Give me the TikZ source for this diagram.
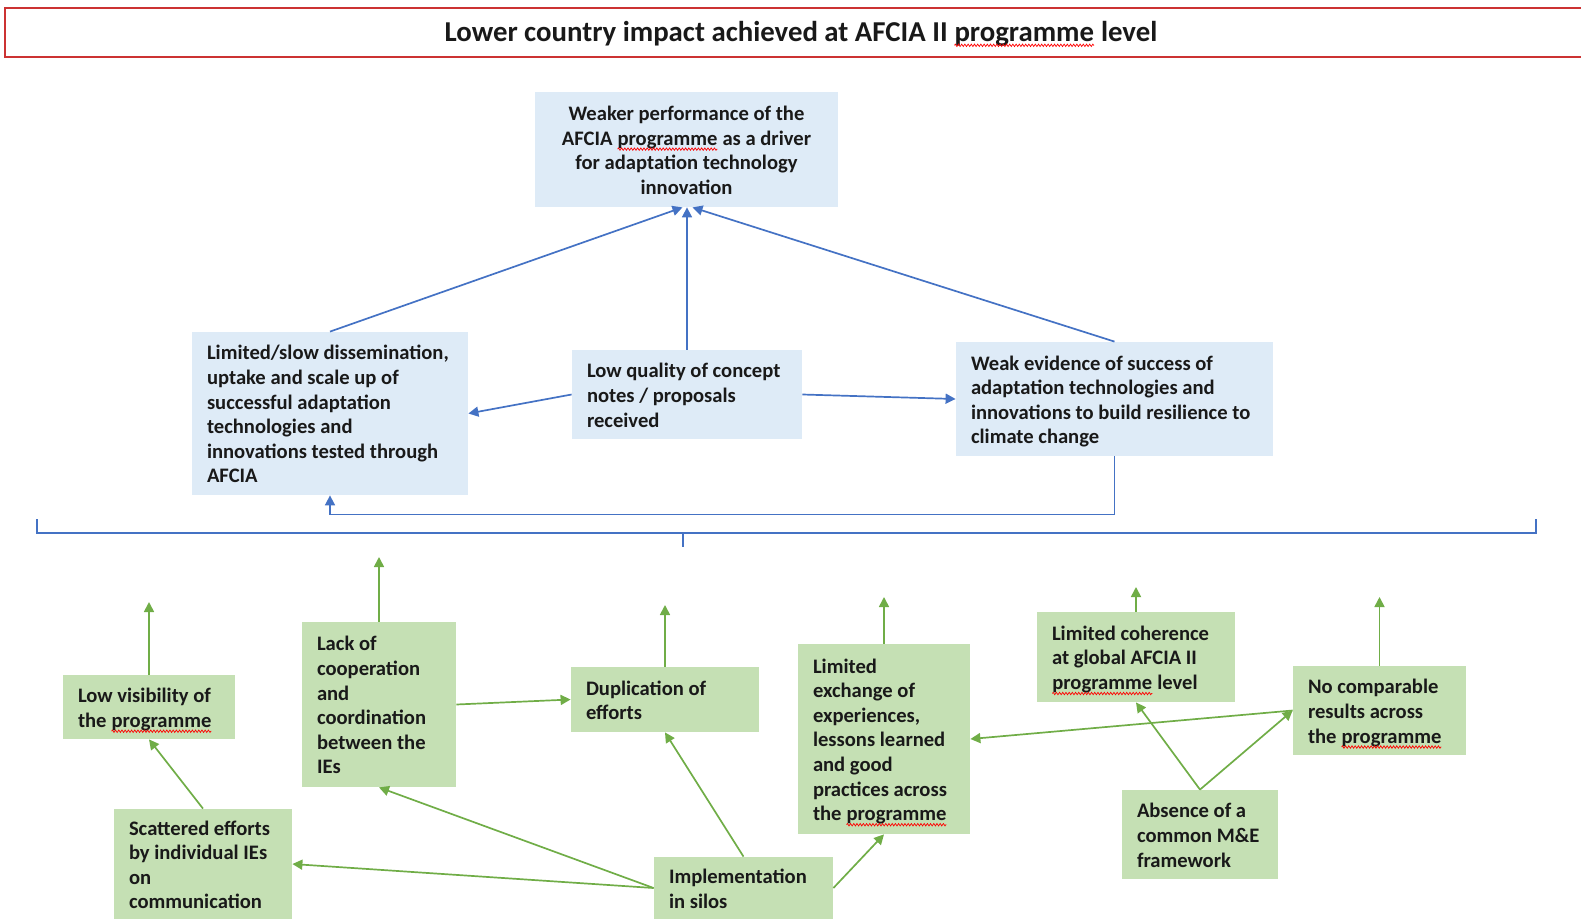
\documentclass[tikz,border=0pt]{standalone}
\usepackage{fontspec}
\setmainfont{Carlito}
\usetikzlibrary{arrows.meta,calc,decorations.pathmorphing}
\definecolor{bluefill}{RGB}{222,235,247}
\definecolor{greenfill}{RGB}{197,224,180}
\definecolor{blueline}{RGB}{68,114,196}
\definecolor{greenline}{RGB}{112,173,71}
\definecolor{titlered}{RGB}{204,51,51}
\definecolor{txt}{RGB}{25,25,25}
\tikzset{wordbox/.style={inner sep=0pt,outer sep=0pt,minimum width=0pt,minimum height=0pt,fill=none,draw=none,text width=,align=none}}
\newcommand\spellwave[1]{\tikz[baseline=(sw.base),x=1pt,y=1pt]{\node[wordbox] (sw) {#1};\draw[red,line width=0.35pt,decorate,decoration={zigzag,amplitude=0.6pt,segment length=1.6pt}] ([yshift=-2pt]sw.base west) -- ([yshift=-2pt]sw.base east);}}
\newcommand\lines[2]{\vbox{\kern3pt\hbox{\makebox[#1][l]{\begin{tabular}{@{}l@{}}#2\end{tabular}}}}}
\begin{document}
\begin{tikzpicture}[x=0.5pt,y=-0.5pt,
  font=\bfseries\fontsize{10.3}{12.3}\selectfont,
  bbox/.style={fill=bluefill,draw=none,inner sep=0pt,text=txt},
  gbox/.style={fill=greenfill,draw=none,inner sep=0pt,text=txt},
  barrow/.style={draw=blueline,line width=0.85pt,-{Triangle[length=5pt,width=5pt]}},
  garrow/.style={draw=greenline,line width=0.85pt,-{Triangle[length=5pt,width=5pt]}},
  bracketline/.style={draw=blueline,line width=0.85pt},
  titleframe/.style={draw=titlered,line width=1pt}]
\useasboundingbox (0,0) rectangle (1581,921);
% title
\draw[titleframe] (5,8) rectangle (1600,57);
\node[font=\bfseries\fontsize{14.4}{17}\selectfont,text=txt] (title) at (801,34) {Lower country impact achieved at AFCIA II \spellwave{programme} level};
% blue boxes
\node[bbox,minimum width=151.5pt,minimum height=57.5pt] (top) at (686.5,149.5)
  {\vbox{\kern3pt\hbox{\begin{tabular}{@{}c@{}}Weaker performance of the\\AFCIA \spellwave{programme} as a driver\\for adaptation technology\\innovation\end{tabular}}}};
\node[bbox,minimum width=138pt,minimum height=81.5pt] (lim) at (330,413.5)
  {\lines{123pt}{Limited/slow dissemination,\\uptake and scale up of\\successful adaptation\\technologies and\\innovations tested through\\AFCIA}};
\node[bbox,minimum width=115pt,minimum height=44.5pt] (lowq) at (687,394.5)
  {\lines{100pt}{Low quality of concept\\notes / proposals\\received}};
\node[bbox,minimum width=158.5pt,minimum height=57pt] (weak) at (1114.5,399)
  {\lines{143.5pt}{Weak evidence of success of\\adaptation technologies and\\innovations to build resilience to\\climate change}};
% blue connectors
\draw[barrow] (lim.north) -- ([xshift=-2pt]top.south);
\draw[barrow] (lowq.north) -- (lowq.north |- top.south);
\draw[barrow] (weak.north) -- ([xshift=3pt]top.south);
\draw[barrow] (lowq.west) -- (lim.east);
\draw[barrow] (lowq.east) -- (weak.west);
\draw[barrow] (weak.south) -- ++(0,58) -| (lim.south);
% bracket
\coordinate (brl) at (37,519);
\coordinate (brr) at (1536,519);
\coordinate (brc) at (683,533);
\draw[bracketline] (brl) -- (37,533) -- (1536,533) -- (brr);
\draw[bracketline] (brc) -- (683,547);
% green boxes
\node[gbox,minimum width=86pt,minimum height=32pt] (lowvis) at (149,707)
  {\lines{71pt}{Low visibility of\\the \spellwave{programme}}};
\node[gbox,minimum width=77pt,minimum height=82.5pt] (lack) at (379,704.5)
  {\lines{62pt}{Lack of\\cooperation\\and\\coordination\\between the\\IEs}};
\node[gbox,minimum width=94pt,minimum height=32.5pt] (dup) at (665,699.5)
  {\lines{79pt}{Duplication of\\efforts}};
\node[gbox,minimum width=86pt,minimum height=95pt] (lexch) at (884,739)
  {\lines{71pt}{Limited\\exchange of\\experiences,\\lessons learned\\and good\\practices across\\the \spellwave{programme}}};
\node[gbox,minimum width=99pt,minimum height=45pt] (coh) at (1136,657)
  {\lines{84pt}{Limited coherence\\at global AFCIA II\\\spellwave{programme} level}};
\node[gbox,minimum width=86.5pt,minimum height=44.5pt] (nocomp) at (1379.5,710.5)
  {\lines{71.5pt}{No comparable\\results across\\the \spellwave{programme}}};
\node[gbox,minimum width=89pt,minimum height=55pt] (scat) at (203,864)
  {\lines{74pt}{Scattered efforts\\by individual IEs\\on\\communication}};
\node[gbox,minimum width=89.5pt,minimum height=31pt] (impl) at (743.5,888)
  {\lines{74.5pt}{Implementation\\in silos}};
\node[gbox,minimum width=78pt,minimum height=44.5pt] (abs) at (1200,834.5)
  {\lines{63pt}{Absence of a\\common M\&E\\framework}};
% free ends of upward arrows
\coordinate (lowvisup) at (149,602);
\coordinate (lackup) at (379,557);
\coordinate (dupup) at (665,605);
\coordinate (lexchup) at (884,597);
\coordinate (cohup) at (1136,587);
\coordinate (nocompup) at (1379.5,597);
\draw[garrow] (lowvis.north) -- (lowvisup);
\draw[garrow] (lack.north) -- (lackup);
\draw[garrow] (dup.north) -- (dupup);
\draw[garrow] (lexch.north) -- (lexchup);
\draw[garrow] (coh.north) -- (cohup);
\draw[garrow] (nocomp.north) -- (nocompup);
% green connectors
\draw[garrow] (scat.north) -- (lowvis.south);
\draw[garrow] (impl.west) -- (scat.east);
\draw[garrow] (impl.west) -- (lack.south);
\draw[garrow] (impl.north) -- (dup.south);
\draw[garrow] (impl.east) -- (lexch.south);
\draw[garrow] (lack.east) -- (dup.west);
\draw[garrow] (abs.north) -- (coh.south);
\draw[garrow] (abs.north) -- (nocomp.west);
\draw[garrow] (nocomp.west) -- (lexch.east);
\end{tikzpicture}
\end{document}
